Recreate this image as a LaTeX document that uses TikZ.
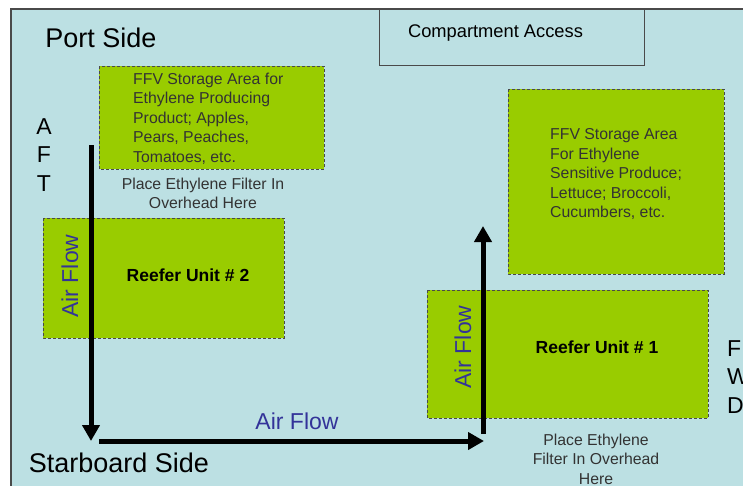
\documentclass[tikz,border=0pt]{standalone}
\usepackage{fontspec}
\setmainfont{Liberation Sans}
\usetikzlibrary{arrows.meta}
\definecolor{bgblue}{HTML}{BCE0E3}
\definecolor{boxgreen}{HTML}{99CC00}
\definecolor{edgegray}{HTML}{4A4A4A}
\definecolor{textgray}{HTML}{333333}
\definecolor{flowblue}{HTML}{333399}
\tikzset{
  zone/.style={draw=edgegray, line width=0.8pt, dash pattern=on 3pt off 2pt, fill=boxgreen},
  boxtext/.style={font=\fontsize{15.8}{19.5}\selectfont, text=textgray, align=left, inner sep=0pt, anchor=west},
  notetext/.style={font=\fontsize{15.8}{19.5}\selectfont, text=textgray, align=center, inner sep=0pt},
  unittext/.style={font=\fontsize{17.5}{21}\selectfont\bfseries, text=black, inner sep=0pt},
  flowtext/.style={font=\fontsize{23}{27}\selectfont, text=flowblue, inner sep=0pt},
  sidetext/.style={font=\fontsize{27}{32}\selectfont, text=black, inner sep=0pt},
  dirtext/.style={font=\fontsize{23}{28.5}\selectfont, text=black, inner sep=0pt},
  flowarrow/.style={line width=5pt, -{Triangle[length=16pt,width=17pt]}}
}
\begin{document}
\begin{tikzpicture}[x=1pt,y=-1pt]
\useasboundingbox (0,0) rectangle (743,485);
\clip (0,0) rectangle (743,485);
\fill[white] (0,0) rectangle (743,485);
\draw[edgegray, line width=1.2pt, fill=bgblue] (11,9) rectangle (760,500);
% compartment access
\draw[edgegray, line width=1pt, fill=bgblue] (379,9) rectangle (644,65);
\node[font=\fontsize{18.3}{22}\selectfont, inner sep=0pt] (access) at (495.5,33) {Compartment Access};
% zones
\draw[zone] (99,66) rectangle (324,169);
\node[boxtext] (ffv1) at (133,118.5) {FFV Storage Area for\\Ethylene Producing\\Product; Apples,\\Pears, Peaches,\\Tomatoes, etc.};
\draw[zone] (508,89) rectangle (724,274);
\node[boxtext] (ffv2) at (550,174) {FFV Storage Area\\For Ethylene\\Sensitive Produce;\\Lettuce; Broccoli,\\Cucumbers, etc.};
\draw[zone] (43,218) rectangle (284,338);
\node[unittext] (ru2) at (188,275) {Reefer Unit \# 2};
\draw[zone] (427,290) rectangle (708,418);
\node[unittext] (ru1) at (597,347) {Reefer Unit \# 1};
% notes
\node[notetext] (note1) at (203,193.5) {Place Ethylene Filter In\\Overhead Here};
\node[notetext] (note2) at (596,459) {Place Ethylene\\Filter In Overhead\\Here};
% labels
\node[sidetext] (port) at (101,38) {Port Side};
\node[sidetext] (starboard) at (119,463) {Starboard Side};
\node[dirtext, align=center] (aft) at (44,155) {A\\F\\T};
\node[dirtext, align=left, anchor=west] (fwd) at (727,377) {F\\W\\D};
% air flow
\coordinate (a1s) at (91,145);
\coordinate (a1e) at (91,441);
\coordinate (a2s) at (99,441);
\coordinate (a2e) at (484,441);
\coordinate (a3s) at (483,434);
\coordinate (a3e) at (483,226);
\draw[flowarrow] (a1s) -- (a1e);
\draw[flowarrow] (a2s) -- (a2e);
\draw[flowarrow] (a3s) -- (a3e);
\node[flowtext, rotate=90] (flow2) at (70,276) {Air Flow};
\node[flowtext, rotate=90] (flow1) at (463,347) {Air Flow};
\node[flowtext] (flowh) at (297,421) {Air Flow};
\end{tikzpicture}
\end{document}
